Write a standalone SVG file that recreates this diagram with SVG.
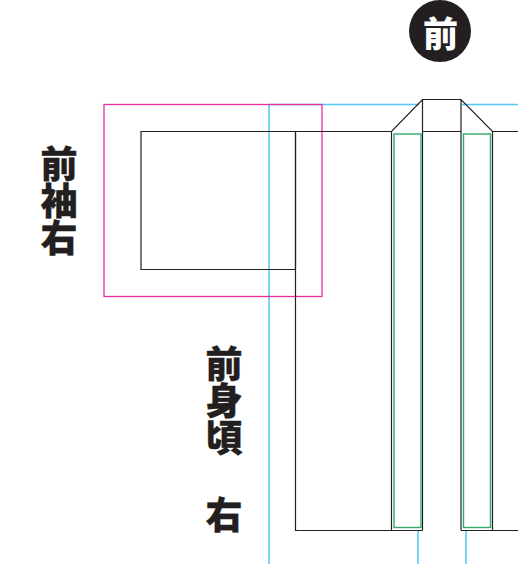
<svg xmlns="http://www.w3.org/2000/svg" width="518" height="564" viewBox="0 0 518 564">
<style>
.k{fill:none;stroke:#231f20;stroke-width:1.2}
.b{fill:none;stroke:#4fc8f4;stroke-width:1.5}
.g{fill:none;stroke:#35a86c;stroke-width:1.4}
.t{font-family:"Noto Sans CJK JP","Noto Sans CJK SC",sans-serif;font-weight:900;font-size:37px;fill:#231f20;stroke:#231f20;stroke-width:.35}
.v{writing-mode:vertical-rl}
</style>
<rect width="518" height="564" fill="#fff"/>
<g id="connectors">
<path class="b" d="M269 564V104.500H419M462 104.500H518M418 530V564M466 530V564"/>
</g>
<g id="sleeve-guide"><rect x="104" y="104.500" width="218" height="192" fill="none" stroke="#e8309c" stroke-width="1.3"/></g>
<g id="sleeve"><path class="k" d="M295.500 269.500H141V131.500H295.500V269.500"/></g>
<g id="body"><path class="k" d="M295.500 131.500H391.500L422.500 99.500H461L492.500 131.500H518M422.500 99.500V530.500M461 99.500V530.500M391.500 131.500V530.500M492.500 131.500V530.500M422.500 131.500H461M295.500 131.500V530.500H422.500M461 530.500H518"/></g>
<g id="collar-left"><rect class="g" x="394" y="134" width="27" height="393.500"/></g>
<g id="collar-right"><rect class="g" x="463.500" y="134" width="27" height="393.500"/></g>
<g id="badge"><circle cx="440" cy="31" r="31" fill="#231f20"/><text x="440.500" y="47" text-anchor="middle" class="t" style="font-size:35px;fill:#fff;stroke:none">前</text></g>
<g id="label-sleeve">
<text class="t v" x="59" y="145">前袖右</text>
</g>
<g id="label-body">
<text class="t v" x="224" y="345">前身頃</text>
<text class="t v" x="224" y="496">右</text>
</g>
</svg>
